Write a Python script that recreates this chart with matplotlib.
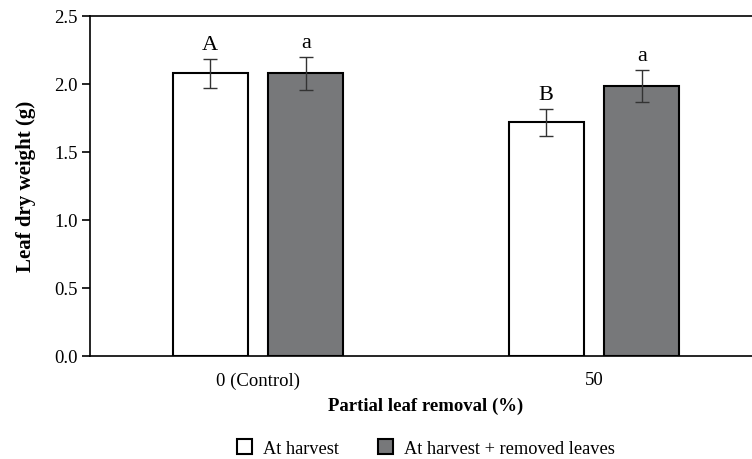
import numpy as np
import matplotlib
matplotlib.use("Agg")
import matplotlib.pyplot as plt
from matplotlib.patches import Patch

plt.rcParams['font.family'] = ['Liberation Serif', 'DejaVu Serif']

# data
groups = ["0 (Control)", "50"]
series = ["At harvest", "At harvest + removed leaves"]
harvest = [2.075, 1.715]
harvest_err = [0.105, 0.10]
removed = [2.075, 1.985]
removed_err = [0.12, 0.117]
letters_harvest = ["A", "B"]
letters_removed = ["a", "a"]

colors = ["white", "#77787a"]

fig = plt.figure(figsize=(7.52, 4.6), dpi=100)
ax = fig.add_axes([90 / 752, 103 / 460, 672 / 752, 340.5 / 460])

x = np.arange(len(groups))
w = 0.224
off = 0.142
err_kw = dict(ecolor="#333333", elinewidth=1.0, capsize=5, capthick=1.0)

ax.bar(x - off, harvest, w, yerr=harvest_err, color=colors[0], edgecolor="black",
       linewidth=1.5, error_kw=err_kw, label=series[0])
ax.bar(x + off, removed, w, yerr=removed_err, color=colors[1], edgecolor="black",
       linewidth=1.5, error_kw=err_kw, label=series[1])

for i in range(len(groups)):
    ax.text(x[i] - off, harvest[i] + harvest_err[i] + 0.035, letters_harvest[i],
            ha="center", va="bottom", fontsize=16)
    ax.text(x[i] + off, removed[i] + removed_err[i] + 0.035, letters_removed[i],
            ha="center", va="bottom", fontsize=16)

ax.set_xlim(-0.5, 1.5)
ax.set_ylim(0, 2.5)
ax.set_yticks(np.arange(0, 2.51, 0.5))
ax.set_yticklabels([f"{v:.1f}" for v in np.arange(0, 2.51, 0.5)], fontsize=13.5)
ax.set_xticks(x)
ax.set_xticklabels(groups, fontsize=13.5)
ax.tick_params(axis="x", length=0, pad=11)
ax.tick_params(axis="y", length=6, width=1.2, pad=3)
for s in ["left", "bottom", "top"]:
    ax.spines[s].set_linewidth(1.2)
ax.spines["right"].set_visible(False)

ax.set_xlabel("Partial leaf removal (%)", fontsize=13.5, fontweight="bold", labelpad=6)
ax.set_ylabel("Leaf dry weight (g)", fontsize=15, fontweight="bold", labelpad=13)

handles = [Patch(facecolor=colors[0], edgecolor="black", linewidth=1.5),
           Patch(facecolor=colors[1], edgecolor="black", linewidth=1.5)]
fig.legend(handles, series, loc="center", bbox_to_anchor=(426 / 752, 1 - 449 / 460),
           ncol=2, frameon=False, fontsize=13.2, handlelength=0.85, handleheight=0.85,
           handletextpad=0.6, columnspacing=2.1)

fig.savefig("out.png", dpi=100)
